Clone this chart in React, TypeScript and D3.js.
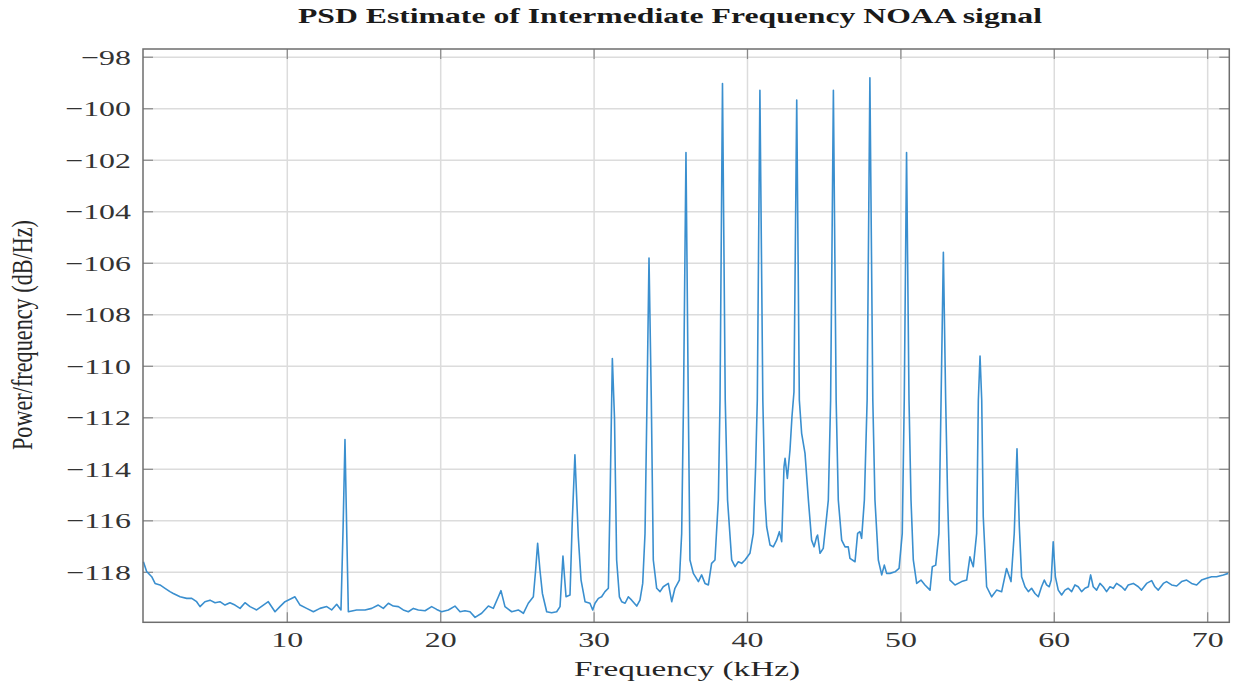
import React from 'react';
import * as d3 from 'd3';

const TITLE = 'PSD Estimate of Intermediate Frequency NOAA signal';
const X_LABEL = 'Frequency (kHz)';
const Y_LABEL = 'Power/frequency (dB/Hz)';

const X_TICKS = [10, 20, 30, 40, 50, 60, 70];
const Y_TICKS = [-98, -100, -102, -104, -106, -108, -110, -112, -114, -116, -118];

const FREQ_KHZ = [
  0.62, 0.83, 1.16, 1.38, 1.70, 2.03, 2.35, 2.57, 3.01, 3.44, 3.77, 4.09, 4.31, 4.63, 4.96, 5.29, 5.61, 5.94,
  6.26, 6.59, 6.92, 7.24, 7.57, 8.00, 8.44, 8.76, 9.20, 9.52, 9.85, 10.50, 10.83, 11.26, 11.70, 12.13, 12.57,
  12.89, 13.22, 13.50, 13.64, 13.76, 13.88, 13.98, 14.52, 15.07,
  15.50, 15.93, 16.26, 16.59, 16.91, 17.24, 17.56, 17.89, 18.22, 18.54, 18.98, 19.41, 19.74, 20.06, 20.50,
  20.93, 21.26, 21.58, 21.91, 22.24, 22.67, 23.11, 23.43, 23.76, 23.93, 24.19, 24.63, 25.06, 25.39, 25.71,
  26.04, 26.19, 26.32, 26.47, 26.63, 26.91, 27.23, 27.56, 27.78, 27.97, 28.17, 28.43, 28.58, 28.75, 28.97,
  29.15, 29.41, 29.73, 29.91, 30.06, 30.28, 30.49, 30.71, 30.93, 31.04, 31.19, 31.33, 31.47, 31.65, 31.80,
  32.02, 32.23, 32.45, 32.78, 32.99, 33.17, 33.32, 33.45, 33.58, 33.73, 33.86, 34.08, 34.30, 34.51, 34.84,
  35.06, 35.27, 35.56, 35.71, 35.83, 35.99, 36.14, 36.25, 36.47, 36.80, 37.01, 37.23, 37.45, 37.66, 37.88,
  38.10, 38.21, 38.37, 38.55, 38.70, 38.97, 39.19, 39.40, 39.62, 39.84, 40.16, 40.38, 40.53, 40.64, 40.81,
  41.00, 41.14, 41.25, 41.47, 41.68, 41.90, 42.08, 42.23, 42.38, 42.45, 42.60, 42.77, 42.90, 43.03, 43.21,
  43.38, 43.53, 43.75, 43.97, 44.18, 44.34, 44.51, 44.57, 44.73, 44.94, 45.16, 45.27, 45.42, 45.60, 45.78,
  45.92, 46.14, 46.36, 46.57, 46.68, 47.01, 47.18, 47.33, 47.44, 47.62, 47.80, 47.98, 48.17, 48.31, 48.53,
  48.75, 48.92, 49.07, 49.29, 49.62, 49.88, 50.09, 50.22, 50.37, 50.53, 50.66, 50.81, 51.03, 51.31, 51.57,
  51.90, 52.05, 52.27, 52.48, 52.62, 52.77, 52.92, 53.05, 53.20, 53.53, 53.96, 54.29, 54.50, 54.72, 54.94,
  55.05, 55.16, 55.27, 55.37, 55.59, 55.92, 56.24, 56.57, 56.89, 57.18, 57.39, 57.57, 57.72, 57.87, 58.09,
  58.31, 58.52, 58.74, 58.96, 59.17, 59.35, 59.50, 59.67, 59.80, 59.93, 60.07, 60.26, 60.48, 60.70, 60.91,
  61.13, 61.35, 61.56, 61.78, 62.00, 62.22, 62.37, 62.54, 62.76, 62.98, 63.19, 63.41, 63.63, 63.85, 64.06,
  64.39, 64.61, 64.82, 65.15, 65.48, 65.69, 66.02, 66.35, 66.56, 66.78, 67.11, 67.32, 67.65, 67.98, 68.30,
  68.63, 68.95, 69.28, 69.60, 69.93, 70.26, 70.58, 71.02, 71.34,
];

const PSD_DB = [
  -117.59, -117.97, -118.17, -118.43, -118.49, -118.62, -118.75, -118.82, -118.95, -119.01, -119.01, -119.14,
  -119.33, -119.14, -119.08, -119.18, -119.14, -119.27, -119.18, -119.27, -119.40, -119.18, -119.33, -119.46,
  -119.27, -119.14, -119.53, -119.33, -119.14, -118.95, -119.27, -119.40, -119.53, -119.40, -119.33,
  -119.46, -119.24, -119.46, -116.2, -112.84, -116.6, -119.53, -119.46, -119.46,
  -119.40, -119.27, -119.40, -119.20, -119.31, -119.33, -119.46, -119.53, -119.40, -119.46, -119.49, -119.33,
  -119.44, -119.53, -119.46, -119.31, -119.53, -119.49, -119.53, -119.75, -119.59, -119.31, -119.40, -118.95,
  -118.71, -119.33, -119.53, -119.46, -119.59, -119.20,
  -118.95, -117.91, -116.87, -117.91, -118.82, -119.53, -119.57, -119.53, -119.33, -117.37, -118.95, -118.88,
  -115.97, -113.44, -116.62,
  -118.30, -119.14, -119.20, -119.46, -119.20, -119.01, -118.95, -118.75, -118.62, -115.19, -109.70, -112.0,
  -117.52, -118.95, -119.14,
  -119.20, -118.95, -119.08, -119.31, -119.08, -118.43, -116.49, -111.31, -105.80, -111.31, -117.52, -118.62,
  -118.75, -118.56, -118.43,
  -119.14, -118.62, -118.30, -116.49, -111.31, -101.70, -111.31, -117.52, -118.04, -118.36, -118.10, -118.43,
  -118.49, -117.65, -117.52,
  -115.19, -111.31, -99.02, -111.31, -115.19, -117.52, -117.78, -117.59, -117.65, -117.52, -117.26, -116.49,
  -113.90, -111.31, -99.28,
  -111.31, -115.19, -116.23, -116.94, -117.01, -116.75, -116.42, -116.81, -113.90, -113.57, -114.35, -113.25,
  -111.96, -111.0, -99.66,
  -111.31, -112.60, -113.38, -115.19, -116.75, -117.01, -116.62, -116.55, -117.26, -117.07, -115.84, -115.19,
  -111.31, -99.28, -111.31,
  -115.19, -116.75, -117.01, -117.01, -117.46, -117.59, -116.49, -116.42, -116.68, -115.19, -111.31, -98.80,
  -111.31, -115.19, -117.52,
  -118.10, -117.72, -118.04, -118.04, -117.98, -117.85, -116.49, -111.31, -101.70, -111.31, -115.19, -117.52,
  -118.43, -118.30, -118.49,
  -118.69, -117.78, -117.72, -116.49, -111.31, -105.57, -111.31, -115.19, -118.30, -118.49, -118.36, -118.30,
  -117.40, -117.78, -116.49,
  -111.31, -109.60, -111.31, -115.84, -118.56, -118.95, -118.69, -118.75, -117.85, -118.36, -116.49, -113.20,
  -116.2, -118.17, -118.56,
  -118.75, -118.62, -118.82, -118.95, -118.56, -118.30, -118.49, -118.56, -118.30, -116.81, -118.17, -118.69,
  -118.88, -118.69, -118.62,
  -118.75, -118.49, -118.56, -118.75, -118.62, -118.56, -118.10, -118.56, -118.69, -118.43, -118.56, -118.75,
  -118.56, -118.62, -118.43,
  -118.56, -118.69, -118.49, -118.43, -118.56, -118.69, -118.43, -118.32, -118.56, -118.69, -118.43, -118.36,
  -118.49, -118.53, -118.36,
  -118.30, -118.43, -118.49, -118.30, -118.23, -118.17, -118.17, -118.10, -118.04,
];

const SERIF = '"Liberation Serif", "DejaVu Serif", serif';

export default function App() {
  const W = 1239;
  const H = 690;
  const left = 143;
  const right = 1229.3;
  const top = 49;
  const bottom = 622.3;
  const SX = 1.45;

  const x = d3.scaleLinear().domain([0.593, 71.41]).range([left, right]);
  const y = d3.scaleLinear().domain([-119.94, -97.68]).range([bottom, top]);

  const pts: [number, number][] = FREQ_KHZ.map((f, i) => [f, PSD_DB[i]]);
  const line = d3
    .line<[number, number]>()
    .x((d) => x(d[0]))
    .y((d) => y(d[1]));

  const fmtY = (v: number) => (v < 0 ? '\u2212' + Math.abs(v) : String(v));
  const tickLen = 10;

  return (
    <svg
      width={W}
      height={H}
      viewBox={`0 0 ${W} ${H}`}
      style={{ position: 'absolute', left: 0, top: 0, background: '#fff' }}
    >
      <rect x={0} y={0} width={W} height={H} fill="#fff" />
      {/* grid */}
      <g stroke="#dcdcdc" strokeWidth={1.5}>
        {X_TICKS.map((t) => (
          <line key={'gx' + t} x1={x(t)} x2={x(t)} y1={top} y2={bottom} />
        ))}
        {Y_TICKS.map((t) => (
          <line key={'gy' + t} x1={left} x2={right} y1={y(t)} y2={y(t)} />
        ))}
      </g>
      {/* ticks */}
      <g stroke="#8a8a8a" strokeWidth={1.2}>
        {X_TICKS.map((t) => (
          <g key={'tx' + t}>
            <line x1={x(t)} x2={x(t)} y1={bottom} y2={bottom - tickLen} />
            <line x1={x(t)} x2={x(t)} y1={top} y2={top + tickLen} />
          </g>
        ))}
        {Y_TICKS.map((t) => (
          <g key={'ty' + t}>
            <line x1={left} x2={left + tickLen} y1={y(t)} y2={y(t)} />
            <line x1={right} x2={right - tickLen} y1={y(t)} y2={y(t)} />
          </g>
        ))}
      </g>
      {/* data */}
      <path
        d={line(pts) || ''}
        fill="none"
        stroke="#3a8fcf"
        strokeWidth={1.6}
        strokeLinejoin="round"
      />
      {/* frame */}
      <rect
        x={left}
        y={top}
        width={right - left}
        height={bottom - top}
        fill="none"
        stroke="#6e6e6e"
        strokeWidth={1.5}
      />
      {/* tick labels */}
      <g fontFamily={SERIF} fontSize={22} fill="#333">
        {Y_TICKS.map((t) => (
          <text
            key={'ly' + t}
            transform={`translate(131,${y(t) + 7.5}) scale(${SX},1)`}
            textAnchor="end"
          >
            {fmtY(t)}
          </text>
        ))}
        {X_TICKS.map((t) => (
          <text
            key={'lx' + t}
            transform={`translate(${x(t)},647) scale(${SX},1)`}
            textAnchor="middle"
          >
            {t}
          </text>
        ))}
      </g>
      {/* title */}
      <text
        x={670}
        y={23}
        textAnchor="middle"
        fontFamily={SERIF}
        fontWeight="bold"
        fontSize={20}
        fill="#1a1a1a"
        textLength={744}
        lengthAdjust="spacingAndGlyphs"
      >
        {TITLE}
      </text>
      {/* x label */}
      <text
        x={687}
        y={676}
        textAnchor="middle"
        fontFamily={SERIF}
        fontSize={21}
        fill="#262626"
        textLength={226}
        lengthAdjust="spacingAndGlyphs"
      >
        {X_LABEL}
      </text>
      {/* y label */}
      <g transform="translate(32,335) rotate(-90) scale(1,1.45)">
        <text
          x={0}
          y={0}
          textAnchor="middle"
          fontFamily={SERIF}
          fontSize={21}
          fill="#262626"
          textLength={230}
          lengthAdjust="spacingAndGlyphs"
        >
          {Y_LABEL}
        </text>
      </g>
    </svg>
  );
}
